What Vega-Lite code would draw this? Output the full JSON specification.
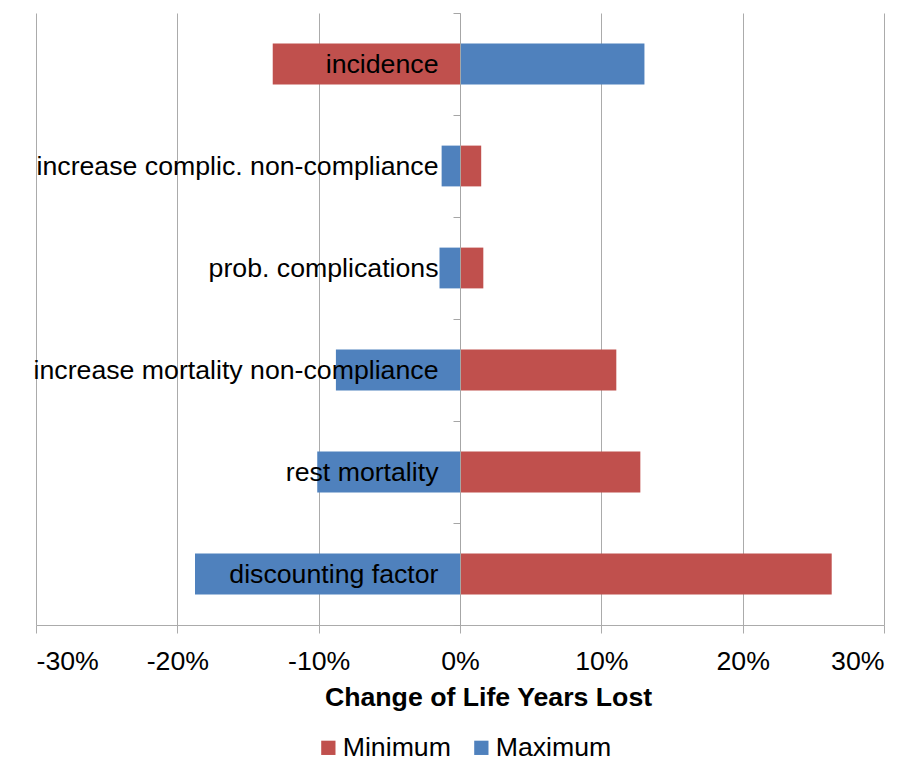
{
  "$schema": "https://vega.github.io/schema/vega-lite/v6.json",
  "width": 848,
  "height": 612,
  "autosize": {"type": "none"},
  "padding": {"left": 36, "top": 13, "right": 36, "bottom": 138},
  "background": "white",
  "config": {
    "view": {"stroke": null},
    "font": "Liberation Sans",
    "locale": {"number": {"decimal": ".", "thousands": ",", "grouping": [3], "currency": ["$", ""], "minus": "-"}}
  },
  "data": {
    "values": [
      {"parameter": "incidence", "scenario": "Minimum", "value": -0.1325},
      {"parameter": "incidence", "scenario": "Maximum", "value": 0.1305},
      {"parameter": "increase complic. non-compliance", "scenario": "Minimum", "value": 0.015},
      {"parameter": "increase complic. non-compliance", "scenario": "Maximum", "value": -0.013},
      {"parameter": "prob. complications", "scenario": "Minimum", "value": 0.0165},
      {"parameter": "prob. complications", "scenario": "Maximum", "value": -0.0145},
      {"parameter": "increase mortality non-compliance", "scenario": "Minimum", "value": 0.1106},
      {"parameter": "increase mortality non-compliance", "scenario": "Maximum", "value": -0.0878},
      {"parameter": "rest mortality", "scenario": "Minimum", "value": 0.1276},
      {"parameter": "rest mortality", "scenario": "Maximum", "value": -0.101},
      {"parameter": "discounting factor", "scenario": "Minimum", "value": 0.263},
      {"parameter": "discounting factor", "scenario": "Maximum", "value": -0.1875}
    ]
  },
  "mark": {"type": "bar", "height": {"band": 0.4}},
  "encoding": {
    "y": {
      "field": "parameter",
      "type": "nominal",
      "sort": ["incidence", "increase complic. non-compliance", "prob. complications", "increase mortality non-compliance", "rest mortality", "discounting factor"],
      "scale": {"paddingInner": 0, "paddingOuter": 0},
      "axis": {
        "title": null,
        "offset": -424,
        "zindex": 1,
        "domainColor": "#a6a6a6",
        "tickColor": "#a6a6a6",
        "tickSize": 7,
        "tickBand": "extent",
        "labelFontSize": 26.7,
        "labelColor": "black",
        "labelPadding": 15,
        "labelLimit": 0
      }
    },
    "x": {
      "field": "value",
      "type": "quantitative",
      "stack": null,
      "scale": {"domain": [-0.3, 0.3], "nice": false, "zero": false},
      "axis": {
        "format": ".0%",
        "values": [-0.3, -0.2, -0.1, 0, 0.1, 0.2, 0.3],
        "grid": true,
        "gridColor": "#ababab",
        "domainColor": "#ababab",
        "tickColor": "#ababab",
        "tickSize": 8,
        "labelFontSize": 26.7,
        "labelColor": "black",
        "labelBaseline": "alphabetic",
        "labelPadding": 36,
        "title": "Change of Life Years Lost",
        "titleFontSize": 26.7,
        "titleFontWeight": "bold",
        "titleColor": "black",
        "titleX": 452,
        "titleY": 80,
        "titleBaseline": "alphabetic",
        "titleAlign": "center"
      }
    },
    "color": {
      "field": "scenario",
      "type": "nominal",
      "scale": {"domain": ["Minimum", "Maximum"], "range": ["#C0504D", "#4F81BD"]},
      "legend": {
        "title": null,
        "orient": "none",
        "legendX": 279,
        "legendY": 721,
        "direction": "horizontal",
        "symbolType": "square",
        "symbolSize": 204,
        "symbolStrokeWidth": 0,
        "labelFontSize": 26.7,
        "labelColor": "black",
        "labelOffset": 1,
        "columnPadding": 17
      }
    }
  }
}
